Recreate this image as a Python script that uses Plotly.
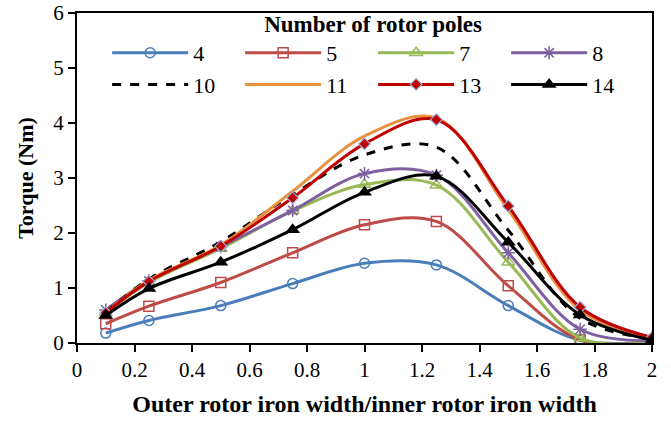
import plotly.graph_objects as go

x_ratio = [0.1, 0.25, 0.5, 0.75, 1.0, 1.25, 1.5, 1.75, 2.0]

poles_labels = ["4", "5", "7", "8", "10", "11", "13", "14"]

torque_4 = [0.18, 0.41, 0.68, 1.08, 1.45, 1.42, 0.68, 0.05, 0.02]
torque_5 = [0.35, 0.67, 1.10, 1.64, 2.15, 2.21, 1.04, 0.06, 0.02]
torque_7 = [0.55, 1.10, 1.72, 2.40, 2.88, 2.87, 1.47, 0.09, 0.02]
torque_8 = [0.60, 1.13, 1.75, 2.41, 3.08, 3.05, 1.64, 0.25, 0.04]
torque_10 = [0.56, 1.16, 1.84, 2.70, 3.42, 3.56, 2.05, 0.45, 0.08]
torque_11 = [0.55, 1.14, 1.78, 2.76, 3.76, 4.09, 2.42, 0.60, 0.10]
torque_13 = [0.55, 1.12, 1.76, 2.64, 3.62, 4.06, 2.49, 0.65, 0.10]
torque_14 = [0.50, 0.99, 1.47, 2.06, 2.74, 3.03, 1.83, 0.51, 0.05]

x_tickvals = [0, 0.2, 0.4, 0.6, 0.8, 1.0, 1.2, 1.4, 1.6, 1.8, 2.0]
x_ticktext = ["0", "0.2", "0.4", "0.6", "0.8", "1", "1.2", "1.4", "1.6", "1.8", "2"]
y_tickvals = [0, 1, 2, 3, 4, 5, 6]

series = [
    (torque_4, "4", "#4A7EBB", "solid", dict(symbol="circle-open", size=10, color="#4A7EBB", line=dict(width=1.5, color="#4A7EBB"))),
    (torque_5, "5", "#BE4B48", "solid", dict(symbol="square-open", size=10, color="#BE4B48", line=dict(width=1.5, color="#BE4B48"))),
    (torque_7, "7", "#98B954", "solid", dict(symbol="triangle-up-open", size=11, color="#98B954", line=dict(width=1.5, color="#98B954"))),
    (torque_8, "8", "#7D60A0", "solid", dict(symbol="asterisk-open", size=11, color="#7D60A0", line=dict(width=1.5, color="#7D60A0"))),
    (torque_10, "10", "#000000", "dash", None),
    (torque_11, "11", "#E8913E", "solid", None),
    (torque_13, "13", "#C00000", "solid", dict(symbol="diamond", size=9, color="#C00000", line=dict(width=1.2, color="#8EB4E3"))),
    (torque_14, "14", "#000000", "solid", dict(symbol="triangle-up", size=13, color="#000000", line=dict(width=0))),
]

fig = go.Figure()
for y, name, color, dash, marker in series:
    kw = dict(
        x=x_ratio, y=y, name=name,
        line=dict(color=color, width=3, dash=dash, shape="spline", smoothing=1.0),
    )
    if marker is None:
        kw["mode"] = "lines"
    else:
        kw["mode"] = "lines+markers"
        kw["marker"] = marker
    fig.add_trace(go.Scatter(**kw))

font_family = "Liberation Serif, Times New Roman, serif"
fs = 21

fig.update_layout(
    width=671, height=421,
    margin=dict(l=77, r=19, t=13, b=78, autoexpand=False),
    paper_bgcolor="white", plot_bgcolor="white",
    font=dict(family=font_family, size=fs, color="black"),
    showlegend=True,
    legend=dict(
        orientation="h",
        x=0.515, xanchor="center",
        yref="container", y=0.995, yanchor="top",
        entrywidth=42, entrywidthmode="pixels",
        itemwidth=76,
        tracegroupgap=0,
        font=dict(family=font_family, size=22, color="black"),
        title=dict(text="<b>Number of rotor poles</b>", side="top center",
                   font=dict(family=font_family, size=23, color="black")),
        bgcolor="rgba(0,0,0,0)",
    ),
    xaxis=dict(
        range=[0, 2], tickvals=x_tickvals, ticktext=x_ticktext,
        showline=True, linecolor="black", linewidth=2, mirror=True,
        ticks="outside", ticklen=7, tickwidth=1.5, tickcolor="black",
        showgrid=False, zeroline=False, automargin=False,
        tickfont=dict(family=font_family, size=fs, color="black"),
        title=dict(text="<b>Outer rotor iron width/inner rotor iron width</b>",
                   font=dict(family=font_family, size=24, color="black"), standoff=14),
    ),
    yaxis=dict(
        range=[0, 6], tickvals=y_tickvals,
        showline=True, linecolor="black", linewidth=2, mirror=True,
        ticks="outside", ticklen=7, tickwidth=1.5, tickcolor="black",
        showgrid=False, zeroline=False, automargin=False,
        tickfont=dict(family=font_family, size=fs, color="black"),
        title=dict(text="<b>Torque (Nm)</b>",
                   font=dict(family=font_family, size=22, color="black"), standoff=14),
    ),
)

fig.write_html("out.html")
